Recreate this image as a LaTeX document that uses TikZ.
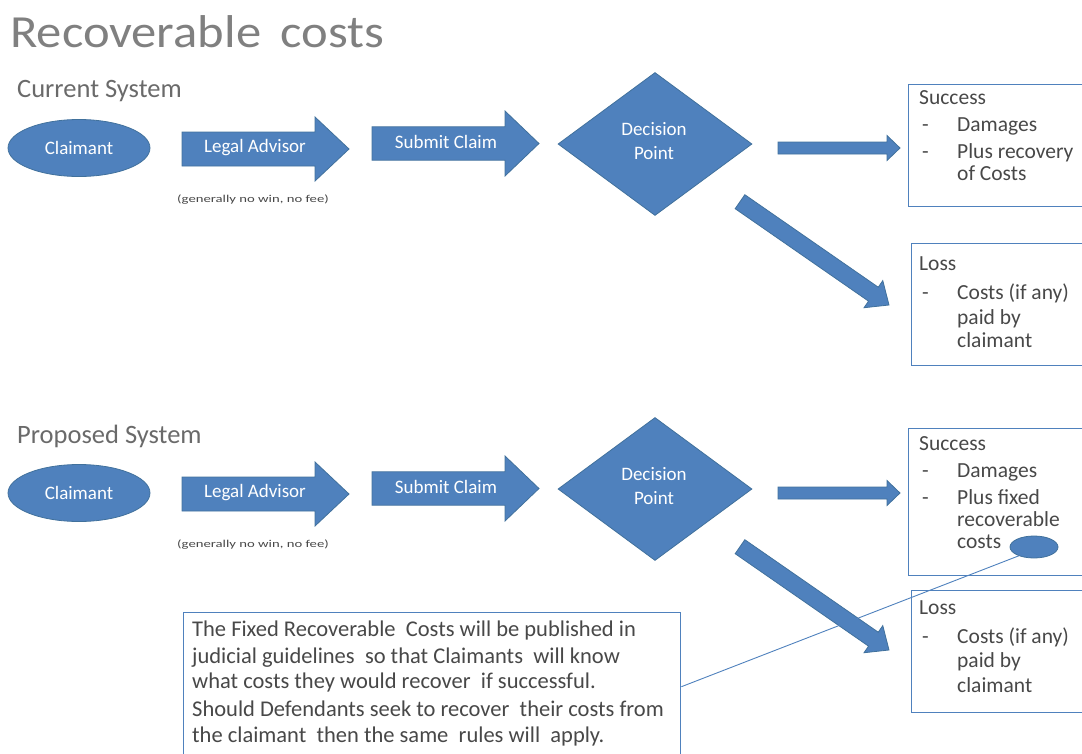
\documentclass[tikz,border=0pt]{standalone}
\usepackage{fontspec}
\setmainfont{Carlito}
\usetikzlibrary{shapes.geometric,calc}
\definecolor{ablue}{HTML}{4F81BD}
\definecolor{aedge}{HTML}{41719C}
\definecolor{tgray}{HTML}{484848}
\definecolor{hgray}{HTML}{808080}
\definecolor{sgray}{HTML}{6A6A6A}
\newcommand\xs{\hspace{0.23em}}
% block arrow: start, end, shaft half width, head half width, head length
\newcommand\blockarrow[5]{%
  \coordinate (hb) at ($(#2)!#5!(#1)$);
  \filldraw[shapefill] ($(#1)!#3!90:(#2)$) -- ($(hb)!#3!-90:(#1)$) -- ($(hb)!#4!-90:(#1)$) -- (#2)
    -- ($(hb)!#4!90:(#1)$) -- ($(hb)!#3!90:(#1)$) -- ($(#1)!#3!-90:(#2)$) -- cycle;}
\begin{document}
\begin{tikzpicture}[x=1pt,y=-1pt,
  shapefill/.style={fill=ablue, draw=aedge, line width=0.8pt},
  boxline/.style={draw=ablue, line width=1.4pt, inner sep=0, anchor=north west},
  bxt/.style={anchor=mid west, inner sep=0, yshift=-5pt, text=tgray, font=\fontsize{21.5}{24}\selectfont},
  cxt/.style={anchor=mid west, inner sep=0, yshift=-6pt, text=tgray, font=\fontsize{22.5}{24}\selectfont},
  lbl/.style={text=white, inner sep=0, font=\fontsize{19}{24}\selectfont, align=center},
  sect/.style={anchor=base west, inner sep=0, text=sgray, font=\fontsize{26.5}{30}\selectfont},
  note/.style={inner sep=0, text=tgray, font=\fontsize{10.5}{13}\selectfont},
  oval/.style={ellipse, shapefill, inner sep=0},
  dmd/.style={diamond, shapefill, inner sep=0, minimum width=194pt, minimum height=143pt}
]
\useasboundingbox (0,0) rectangle (1082,753);
\clip (0,0) rectangle (1082,753);

% title
\node[anchor=base west, inner sep=0, text=hgray, font=\fontsize{46}{50}\selectfont] (title) at (10,47)
  {\scalebox{1.1}[1]{Recoverable\hspace{0.38em}costs}};

% ================= Current system =================
\node[sect] (cur) at (17,97) {Current System};
\node[oval, minimum width=142pt, minimum height=57pt] (c1) at (79,148) {};
\node[lbl] (c1t) at (c1) {Claimant};

\coordinate (la1s) at (182,149); \coordinate (la1e) at (349,149);
\blockarrow{la1s}{la1e}{17pt}{32pt}{34pt}
\node[lbl] (la1) at (255,148) {Legal Advisor};
\node[note] (g1) at (253,200) {\scalebox{1.4}[1]{(generally no win, no fee)}};

\coordinate (sc1s) at (372,143.5); \coordinate (sc1e) at (539,143.5);
\blockarrow{sc1s}{sc1e}{16.7pt}{32.5pt}{34pt}
\node[lbl] (sc1) at (446,142) {Submit Claim};

\node[dmd] (d1) at (655,144) {};
\node[lbl] (d1t) at (654,141) {Decision\\Point};

\node[boxline, minimum width=184pt, minimum height=122pt] (s1) at (908,84) {};
\node[boxline, minimum width=181pt, minimum height=122pt] (l1) at (911,243) {};

\coordinate (sa1s) at (778,148); \coordinate (sa1e) at (900,148);
\blockarrow{sa1s}{sa1e}{6pt}{12.5pt}{13pt}
\coordinate (da1s) at (740,201.7); \coordinate (da1e) at (889,305);
\blockarrow{da1s}{da1e}{8.5pt}{16.5pt}{19pt}

\node[bxt] (s1a) at (919,97) {Success};
\node[bxt] (s1b) at (922,124) {-};
\node[bxt] (s1c) at (957,124) {Damages};
\node[bxt] (s1d) at (922,151) {-};
\node[bxt] (s1e) at (957,151) {Plus recovery};
\node[bxt] (s1f) at (957,173) {of Costs};

\node[bxt] (l1a) at (919,263) {Loss};
\node[bxt] (l1b) at (922,292) {-};
\node[bxt] (l1c) at (957,292) {Costs (if any)};
\node[bxt] (l1d) at (957,317) {paid by};
\node[bxt] (l1e) at (957,340) {claimant};

% ================= Proposed system =================
\node[sect] (pro) at (17,443.5) {Proposed System};
\node[oval, minimum width=142pt, minimum height=57pt] (c2) at (79,493) {};
\node[lbl] (c2t) at (c2) {Claimant};

\coordinate (la2s) at (182,494); \coordinate (la2e) at (349,494);
\blockarrow{la2s}{la2e}{17pt}{32pt}{34pt}
\node[lbl] (la2) at (255,493) {Legal Advisor};
\node[note] (g2) at (253,545) {\scalebox{1.4}[1]{(generally no win, no fee)}};

\coordinate (sc2s) at (372,488.5); \coordinate (sc2e) at (539,488.5);
\blockarrow{sc2s}{sc2e}{16.7pt}{32.5pt}{34pt}
\node[lbl] (sc2) at (446,487) {Submit Claim};

\node[dmd] (d2) at (655,489) {};
\node[lbl] (d2t) at (654,486) {Decision\\Point};

\node[boxline, minimum width=184pt, minimum height=147pt] (s2) at (908,428) {};
\node[boxline, minimum width=181pt, minimum height=122pt] (l2) at (911,590) {};

\coordinate (sa2s) at (778,493); \coordinate (sa2e) at (900,493);
\blockarrow{sa2s}{sa2e}{6pt}{12.5pt}{13pt}
\coordinate (da2s) at (740,546.7); \coordinate (da2e) at (889,650);
\blockarrow{da2s}{da2e}{8.5pt}{16.5pt}{19pt}

\node[bxt] (s2a) at (919,443) {Success};
\node[bxt] (s2b) at (922,470) {-};
\node[bxt] (s2c) at (957,470) {Damages};
\node[bxt] (s2d) at (922,497) {-};
\node[bxt] (s2e) at (957,497) {Plus fixed};
\node[bxt] (s2f) at (957,519) {recoverable};
\node[bxt] (s2g) at (957,541) {costs};

\node[oval, minimum width=48pt, minimum height=22pt] (sm) at (1034,547) {};

\node[bxt] (l2a) at (919,607) {Loss};
\node[bxt] (l2b) at (922,636) {-};
\node[bxt] (l2c) at (957,636) {Costs (if any)};
\node[bxt] (l2d) at (957,660) {paid by};
\node[bxt] (l2e) at (957,685) {claimant};

% callout
\node[boxline, fill=white, minimum width=497pt, minimum height=148pt] (cb) at (183,612) {};
\draw[ablue, line width=0.9pt] (cb.east) -- (sm.210);
\node[cxt] (cb1) at (192,628) {The Fixed Recoverable \xs Costs will be published in};
\node[cxt] (cb2) at (192,655) {judicial guidelines \xs so that Claimants \xs will know};
\node[cxt] (cb3) at (192,680) {what costs they would recover \xs if successful.};
\node[cxt] (cb4) at (192,708.5) {Should Defendants seek to recover \xs their costs from};
\node[cxt] (cb5) at (192,734) {the claimant \xs then the same \xs rules will \xs apply.};
\end{tikzpicture}
\end{document}
